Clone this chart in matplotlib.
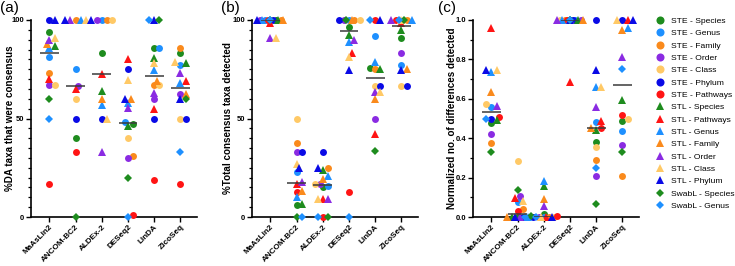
import numpy as np
import matplotlib.pyplot as plt
from matplotlib.lines import Line2D

plt.rcParams['font.family'] = ['Liberation Sans', 'DejaVu Sans']

methods = ['MaAsLin2', 'ANCOM-BC2', 'ALDEx-2', 'DESeq2', 'LinDA', 'ZicoSeq']

series = ['STE - Species', 'STE - Genus', 'STE - Family', 'STE - Order', 'STE - Class',
          'STE - Phylum', 'STE - Pathways', 'STL - Species', 'STL - Pathways', 'STL - Genus',
          'STL - Family', 'STL - Order', 'STL - Class', 'STL - Phylum',
          'SwabL - Species', 'SwabL - Genus']
colors = ['#1E8C1E', '#1E90FF', '#FA8A1C', '#8A2BE2', '#FFC966', '#0A0AE6', '#FF1414',
          '#1E8C1E', '#FF1414', '#1E90FF', '#FA8A1C', '#8A2BE2', '#FFC966', '#0A0AE6',
          '#1E8C1E', '#1E90FF']
markers = ['o'] * 7 + ['^'] * 7 + ['D', 'D']

nan = np.nan
# rows = series, columns = methods
pct_da = np.array([
    [94, 40, 83, 47, 86, 83],          # STE - Species
    [81, 75, 100, 48, 86, 77],         # STE - Genus
    [73, 100, 100, 31, 67, 86],        # STE - Family
    [67, 66.7, 100, 30, 60, 62.5],     # STE - Order
    [67, 60, 100, 40, 67, 50],         # STE - Class
    [100, 50, 50, 75, 50, 50],         # STE - Phylum
    [17, 33, nan, 1, 19, 17],          # STE - Pathways
    [87, nan, 64, 46, 80.5, 78],       # STL - Species
    [70, 65, 72.5, 80, 55, 69],        # STL - Pathways
    [86, 100, 57, 58, 74.5, 68],       # STL - Genus
    [88, nan, 60, 60, 69, 62.5],       # STL - Family
    [90, 100, 33, 55.5, 63, 73],       # STL - Order
    [91, 100, 50, 69.5, 78, 78.5],     # STL - Class
    [100, 100, 100, 60, 100, 60],      # STL - Phylum
    [60, 0, nan, 20, 100, 60],         # SwabL - Species
    [50, nan, nan, 0, 100, 33],        # SwabL - Genus
])

pct_total = np.array([
    [100, 6, 15, 96.5, 75.5, 91],
    [100, 23, 15.5, 100, 92, 77],
    [100, 37.5, 25, 100, 75, 100],
    [100, 33, 17, 100, 50, 83],
    [100, 50, 17, 100, 66.5, 66.5],
    [100, 33, 33, 100, 66.5, 66.5],
    [100, 12.5, 0, 12.5, 100, 100],
    [100, 6.5, 24, 92.5, 75, 95],
    [98.5, 16.6, 9, 83, 42, 98.5],
    [100, 10, 21, 89, 78.5, 100],
    [100, 13, 19.5, 100, 59.7, 75],
    [91, 18, 9, 90, 63.5, 100],
    [91, 27, 9, 81, 63.5, 100],
    [100, 25, 25, 74.5, 100, 74.5],
    [100, 0, 0, 100, 33.3, 100],
    [100, 0, 0, 0, 100, 100],
])

norm_diff = np.array([
    [0.475, 0, 0.015, 1, 0.38, 0.487],
    [0.56, 0.078, 0, 1, 0.48, 0.438],
    [0.375, 0.042, 0, 1, 0.29, 0.208],
    [0.42, 0.105, 0, 1, 0.208, 0.365],
    [0.572, 0.285, 0, 1, 0.357, 0.5],
    [0.5, 0, 0, 1, 1.0, 1.0],
    [0.506, 0.03, 0.005, 1, 0.45, 0.518],
    [0.49, 0, 0.155, 1, 0.44, 0.594],
    [0.96, 0.095, 0, 0.685, 0.485, 1.0],
    [0.735, 0, 0.185, 1, 0.66, 0.96],
    [0.633, 0, 0.09, 1, 0.45, 0.95],
    [0.565, 0, 0.057, 1, 0.56, 0.81],
    [0.745, 0.08, 0, 1, 0.66, 1.0],
    [0.745, 0, 0, 1, 0.745, 1.0],
    [0.33, 0.135, 0.005, 1, 0.065, 0.33],
    [0.5, 0, 0, 1, 0.247, 0.75],
])

ylabels = ['%DA taxa that were consensus', '%Total consensus taxa detected',
           'Normalized no. of differences detected']


def swarm_offsets(vals, px_per_y, px_per_x=26.0, diam=4.0, step=0.1):
    # place points one by one; first spot without overlap, else the least crowded one
    offs = np.full(len(vals), nan)
    placed = []
    order = np.argsort(np.where(np.isnan(vals), np.inf, vals), kind='stable')
    for i in order:
        if np.isnan(vals[i]):
            continue
        cands = [0.0]
        for k in range(1, 6):
            cands += [k * step, -k * step]
        best, best_d = 0.0, -1.0
        for c in cands:
            dmin = min([np.hypot((c - px) * px_per_x, (vals[i] - py) * px_per_y)
                        for (px, py) in placed] + [99.0])
            if dmin >= diam:
                best = c
                break
            if dmin > best_d + 0.5:
                best, best_d = c, dmin
        offs[i] = best
        placed.append((best, vals[i]))
    return offs


fig = plt.figure(figsize=(7.35, 2.66), dpi=100)
lefts = [31, 252, 473]
label_x = [-0.099, -0.117, -0.099]
datasets = [pct_da, pct_total, norm_diff]
for p in range(3):
    ax = fig.add_axes([lefts[p] / 735, 1 - 217 / 266, 166 / 735, 197 / 266])
    data = datasets[p]
    top = 1.0 if p == 2 else 100.0
    px_per_y = 197.0 / top
    x = np.arange(len(methods))
    offs = np.zeros_like(data)
    for j in range(len(methods)):
        offs[:, j] = swarm_offsets(data[:, j], px_per_y)
    for s in range(len(series)):
        ms = 3.8 if markers[s] == 'D' else (5.2 if markers[s] == '^' else 5.0)
        ax.plot(x + offs[s], data[s], linestyle='none', marker=markers[s], color=colors[s],
                markersize=ms, markeredgewidth=0, clip_on=False, zorder=3)
    med = np.nanmedian(data, axis=0)
    for j in range(len(methods)):
        ax.plot([j - 0.36, j + 0.36], [med[j], med[j]], color='#3a3a3a', lw=1.1,
                zorder=4, solid_capstyle='butt')
    ax.set_xlim(-0.7, 5.63)
    ax.set_ylim(0, top)
    if p == 2:
        ax.set_yticks(np.arange(0, 1.01, 0.2))
        ax.set_yticklabels(['0.0', '0.2', '0.4', '0.6', '0.8', '1.0'])
        ax.set_yticks(np.arange(0, 1.01, 0.1), minor=True)
    else:
        ax.set_yticks([0, 50, 100])
        ax.set_yticks(np.arange(0, 101, 5), minor=True)
    ax.set_xticks(x)
    ax.set_xticklabels(methods, rotation=45, ha='right', rotation_mode='anchor',
                       fontsize=5.9, fontweight='bold')
    for lab in ax.get_yticklabels():
        lab.set_fontweight('bold')
        lab.set_fontsize(5.5)
    ax.tick_params(axis='both', which='major', length=3.5, width=1, pad=1.5)
    ax.tick_params(axis='x', which='major', pad=1.0)
    ax.tick_params(axis='y', which='minor', length=2.2, width=0.9)
    ax.tick_params(axis='x', which='minor', length=0)
    for side in ['top', 'right']:
        ax.spines[side].set_visible(False)
    for side in ['left', 'bottom']:
        ax.spines[side].set_linewidth(1.2)
    ax.set_ylabel(ylabels[p], fontsize=7.1, fontweight='bold')
    ax.yaxis.set_label_coords(label_x[p], 0.5)
    ax.patch.set_alpha(0)

fig.text(0.0, 0.995, '(a)', fontsize=11, va='top', ha='left')
fig.text(221 / 735, 0.995, '(b)', fontsize=11, va='top', ha='left')
fig.text(438 / 735, 0.995, '(c)', fontsize=11, va='top', ha='left')

handles = [Line2D([], [], linestyle='none', marker=markers[s], color=colors[s],
                  markersize=4.2 if markers[s] == 'D' else 5.8, markeredgewidth=0)
           for s in range(len(series))]
fig.legend(handles, series, loc='upper left', bbox_to_anchor=(657 / 735, 1 - 17 / 266),
           frameon=False, fontsize=6.1, handlelength=0.8, handletextpad=0.8,
           labelspacing=0.52, borderaxespad=0, borderpad=0)

fig.savefig('out.png', dpi=100)
